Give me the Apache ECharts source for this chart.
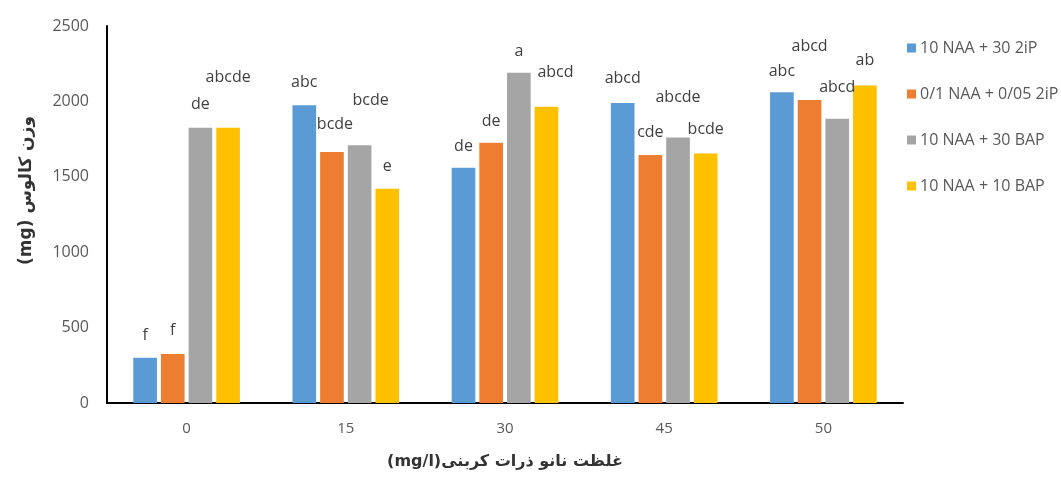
<!DOCTYPE html>
<html>
<head>
<meta charset="utf-8">
<script src="https://cdn.jsdelivr.net/npm/echarts@6/dist/echarts.min.js"></script>
<style>html,body{margin:0;padding:0;background:#fff;}#c{width:1061px;height:482px;}</style>
</head>
<body>
<div id="c"></div>
<script>
const categories = ['0', '15', '30', '45', '50'];
const seriesNames = ['10 NAA + 30 2iP', '0/1 NAA + 0/05 2iP', '10 NAA + 30 BAP', '10 NAA + 10 BAP'];
const blueValues = [300, 1975, 1560, 1990, 2060];
const orangeValues = [325, 1665, 1725, 1645, 2010];
const grayValues = [1825, 1710, 2190, 1760, 1885];
const yellowValues = [1825, 1420, 1965, 1655, 2105];
const blueLetters = ['f', 'abc', 'de', 'abcd', 'abc'];
const orangeLetters = ['f', 'bcde', 'de', 'cde', 'abcd'];
const grayLetters = ['de', 'bcde', 'a', 'abcde', 'abcd'];
const yellowLetters = ['abcde', 'e', 'abcd', 'bcde', 'ab'];
const yTicks = [0, 500, 1000, 1500, 2000, 2500];
const xTitle = 'غلظت نانو ذرات کربنی(mg/l)';
const yTitle = 'وزن کالوس (mg)';

// label placement (styling only)
const labelOffsets = [
  [[0,-9],[0,-10],[0,-8],[0,-11],[0,-8]],
  [[0,-11],[3,-14],[0,-8],[0,-9],[0,-40]],
  [[0,-10],[11,-32],[0,-8],[0,-27],[0,-18]],
  [[0,-37],[0,-9],[9,-21],[0,-11],[0,-12]]
];
const colors = ['#5B9BD5', '#ED7D31', '#A5A5A5', '#FFC000'];
const allValues = [blueValues, orangeValues, grayValues, yellowValues];
const allLetters = [blueLetters, orangeLetters, grayLetters, yellowLetters];

const font = "'Open Sans', 'DejaVu Sans', sans-serif";
const rtl = s => '\u202B' + s + '\u202C';

const series = allValues.map((vals, s) => ({
  name: seriesNames[s],
  type: 'bar',
  barGap: '17%',
  barCategoryGap: '33%',
  itemStyle: { color: colors[s] },
  data: vals.map((v, i) => ({
    value: v,
    label: {
      show: true,
      position: 'top',
      offset: labelOffsets[s][i],
      formatter: allLetters[s][i],
      fontFamily: font,
      fontSize: 16,
      color: '#404040'
    }
  }))
}));

const chart = echarts.init(document.getElementById('c'));
chart.setOption({
  animation: false,
  backgroundColor: '#fff',
  color: colors,
  grid: { left: 107, right: 158, top: 26, bottom: 79 },
  legend: {
    orient: 'vertical',
    left: 902,
    top: 35,
    itemWidth: 9,
    itemHeight: 9,
    itemGap: 30,
    icon: 'rect',
    data: seriesNames,
    textStyle: { fontFamily: font, fontSize: 16, color: '#595959', padding: [0, 0, 0, -1] }
  },
  xAxis: {
    type: 'category',
    data: categories,
    name: rtl(xTitle),
    nameLocation: 'middle',
    nameGap: 51,
    nameTextStyle: { fontFamily: "'DejaVu Sans', sans-serif", fontSize: 16, fontWeight: 'bold', color: '#333' },
    axisLine: { lineStyle: { color: '#000', width: 2 } },
    axisTick: { show: false },
    axisLabel: { fontFamily: font, fontSize: 15, color: '#595959', margin: 18 }
  },
  yAxis: {
    type: 'value',
    min: 0,
    max: 2500,
    interval: 500,
    name: rtl(yTitle),
    nameLocation: 'middle',
    nameGap: 72,
    nameTextStyle: { fontFamily: "'DejaVu Sans', sans-serif", fontSize: 17, fontWeight: 'bold', color: '#333', padding: [0, 0, 0, 48] },
    axisLine: { show: true, lineStyle: { color: '#000', width: 2 } },
    axisTick: { show: false },
    splitLine: { show: false },
    axisLabel: {
      fontFamily: font, fontSize: 16, color: '#595959', margin: 18,
      formatter: v => yTicks.includes(v) ? String(v) : ''
    }
  },
  series: series
});
</script>
</body>
</html>
